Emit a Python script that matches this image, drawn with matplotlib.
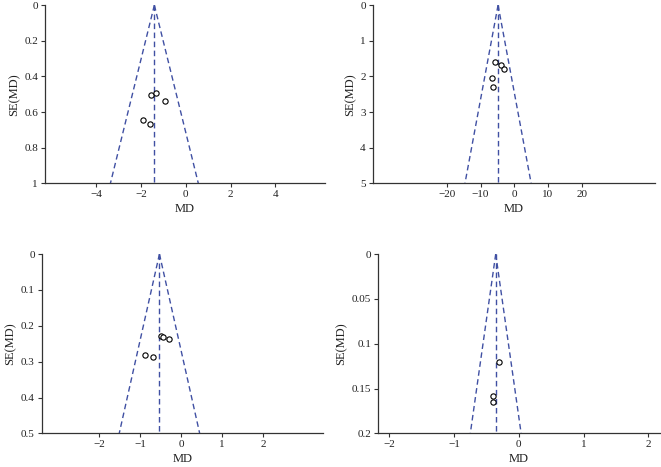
import matplotlib
matplotlib.use("Agg")
import matplotlib.pyplot as plt
import numpy as np

plt.rcParams['font.family'] = ['Liberation Serif', 'DejaVu Serif']

# Panel data
pooled_md = [-1.40, -4.80, -0.53, -0.355]
se_max = [1.0, 5.0, 0.5, 0.2]

p1_md = [-1.56, -1.31, -0.91, -1.92, -1.58]
p1_se = [0.506, 0.494, 0.537, 0.644, 0.666]
p2_md = [-5.68, -3.90, -3.11, -6.67, -6.17]
p2_se = [1.60, 1.67, 1.78, 2.04, 2.29]
p3_md = [-0.49, -0.44, -0.29, -0.89, -0.69]
p3_se = [0.229, 0.230, 0.237, 0.282, 0.288]
p4_md = [-0.30, -0.40, -0.40]
p4_se = [0.120, 0.158, 0.165]

xticks = [[-4, -2, 0, 2, 4], [-20, -10, 0, 10, 20], [-2, -1, 0, 1, 2], [-2, -1, 0, 1, 2]]
yticks = [[0, 0.2, 0.4, 0.6, 0.8, 1], [0, 1, 2, 3, 4, 5],
          [0, 0.1, 0.2, 0.3, 0.4, 0.5], [0, 0.05, 0.1, 0.15, 0.2]]
ytick_labels = [["0", "0.2", "0.4", "0.6", "0.8", "1"], ["0", "1", "2", "3", "4", "5"],
                ["0", "0.1", "0.2", "0.3", "0.4", "0.5"], ["0", "0.05", "0.1", "0.15", "0.2"]]
xlims = [(-6.28, 6.22), (-41.9, 41.7), (-3.40, 3.46), (-2.17, 2.18)]

points = [(p1_md, p1_se), (p2_md, p2_se), (p3_md, p3_se), (p4_md, p4_se)]

# axes positions [left, bottom, width, height] in figure fraction
positions = [
    [0.068, 0.6075, 0.424, 0.3815],
    [0.564, 0.6075, 0.427, 0.3815],
    [0.063, 0.072, 0.426, 0.384],
    [0.572, 0.072, 0.4265, 0.384],
]

fig = plt.figure(figsize=(6.61, 4.67), dpi=100)
line_color = '#4050a3'
axis_color = '#333333'

for i in range(4):
    ax = fig.add_axes(positions[i])
    c = pooled_md[i]
    smax = se_max[i]
    se_line = np.array([0, smax])
    ax.plot(c - 1.96 * se_line, se_line, linestyle=(0, (4, 2.5)), color=line_color, lw=1.0)
    ax.plot(c + 1.96 * se_line, se_line, linestyle=(0, (4, 2.5)), color=line_color, lw=1.0)
    ax.plot([c, c], [0, smax], linestyle=(0, (4, 2.5)), color=line_color, lw=1.0)
    md, se = points[i]
    ax.plot(md, se, 'o', mfc='white', mec='black', ms=3.8, mew=0.8, linestyle='none')
    ax.set_xlim(*xlims[i])
    ax.set_ylim(smax, 0)
    ax.set_xticks(xticks[i])
    ax.set_yticks(yticks[i])
    ax.set_yticklabels(ytick_labels[i])
    for s in ['top', 'right']:
        ax.spines[s].set_visible(False)
    for s in ['left', 'bottom']:
        ax.spines[s].set_color(axis_color)
        ax.spines[s].set_linewidth(0.9)
    ax.tick_params(axis='both', colors=axis_color, labelsize=8, length=3, width=0.8,
                   labelcolor='#222222', pad=2)
    ax.set_xlabel('MD', fontsize=9, color='#222222', labelpad=3)
    ax.set_ylabel('SE(MD)', fontsize=9, color='#222222', labelpad=3)
    ax.patch.set_alpha(0)

fig.savefig('out.png', dpi=100)
